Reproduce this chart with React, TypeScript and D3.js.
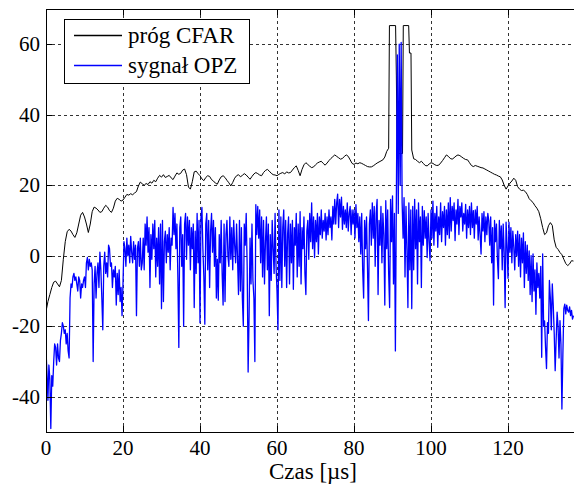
import React, { useEffect, useRef } from 'react';
import * as d3 from 'd3';

// CFAR threshold, [time µs, level]
const cfarPoints: [number, number][] = [
  [0, -15.8], [0.5, -13], [1, -11], [1.5, -9], [2, -7.5], [2.5, -7.2], [3, -8], [3.5, -8.8], [4, -7], [4.5, -1],
  [5, 4], [5.5, 6.8], [6, 7.5], [6.5, 7], [7, 6], [7.5, 5.2], [8, 6.5], [8.5, 9], [9, 11.5], [9.5, 12.3],
  [10, 11], [10.5, 9], [11, 6.6], [11.5, 9], [12, 12.5], [12.5, 13.8], [13, 13.5], [13.5, 13], [14, 12.3], [14.5, 12.5],
  [15, 13.5], [15.5, 14.3], [16, 13.8], [16.5, 12.8], [17, 12.3], [17.5, 13.5], [18, 15.5], [18.5, 16.3], [19, 16], [19.5, 15.5],
  [20, 15.8], [20.5, 16.6], [21, 17.4], [21.5, 17.2], [22, 17.6], [22.5, 17.3], [23, 17.8], [23.5, 18.2], [24, 19.8], [24.5, 20.9],
  [25, 20.4], [25.5, 20], [26, 20.5], [26.5, 20.2], [27, 21], [27.5, 20.6], [28, 21.4], [28.5, 21], [29, 22], [29.5, 22.8],
  [30, 22.3], [30.5, 23], [31, 22.2], [31.5, 22.5], [32, 22.8], [32.5, 22.1], [33, 21.6], [33.5, 22.6], [34, 23.5], [34.5, 23.1],
  [35, 23.4], [35.5, 24.3], [36, 24.6], [36.5, 23], [37, 19.5], [37.5, 18.9], [38, 21], [38.5, 23.8], [39, 24], [39.5, 23.3],
  [40, 22.7], [40.5, 21.8], [41, 21.3], [41.5, 22.2], [42, 22.7], [42.5, 22.5], [43, 21.6], [43.5, 21.2], [44, 20.6], [44.5, 20.3],
  [45, 21.5], [45.5, 22.4], [46, 22.7], [46.5, 22.2], [47, 21.4], [47.5, 20.7], [48, 19.8], [48.5, 20.8], [49, 22], [49.5, 22.7],
  [50, 23], [50.5, 22.4], [51, 22.8], [51.5, 23.3], [52, 22.9], [52.5, 22.3], [53, 21.7], [53.5, 22.5], [54, 23.2], [54.5, 23.6],
  [55, 23.3], [55.5, 22.9], [56, 22.7], [56.5, 23.6], [57, 24.2], [57.5, 24.5], [58, 24], [58.5, 23.4], [59, 23], [59.5, 22.9],
  [60, 22.7], [60.5, 23.1], [61, 23.4], [61.5, 23.6], [62, 23.2], [62.5, 23.8], [63, 23.5], [63.5, 23.6], [64, 24.3], [64.5, 25],
  [65, 25.5], [65.5, 24.2], [66, 22.7], [66.5, 24.5], [67, 25.8], [67.5, 26.4], [68, 25.9], [68.5, 25.4], [69, 25], [69.5, 25.2],
  [70, 25.8], [70.5, 26.3], [71, 26.6], [71.5, 26.8], [72, 26.2], [72.5, 25.7], [73, 26.3], [73.5, 27], [74, 27.6], [74.5, 28.1],
  [75, 28.6], [75.5, 28.2], [76, 27.8], [76.5, 27.4], [77, 27.6], [77.5, 28.2], [78, 28.6], [78.5, 28.2], [79, 27.2], [79.5, 26.2],
  [80, 25.9], [80.5, 26.3], [81, 26.1], [81.5, 26.4], [82, 26.2], [82.5, 25.9], [83, 25.6], [83.5, 25.3], [84, 25.2], [84.5, 25.2],
  [85, 25.5], [85.5, 25.9], [86, 26.3], [86.5, 26.6], [87, 26.9], [87.5, 27.2], [88, 28], [88.5, 29.6], [89, 30.5],
  [89.2, 65.3], [90.8, 65.3], [91, 51], [91.2, 29], [92.6, 29], [92.8, 65.3], [94.2, 65.3], [94.4, 57.5], [94.8, 57.5], [95, 30],
  [95.5, 27.5], [96, 27.3], [96.5, 26.8], [97, 26.4], [97.5, 26.8], [98, 26.2], [98.5, 25.6], [99, 25.5], [99.5, 26],
  [100, 26.4], [100.5, 26.2], [101, 25.8], [101.5, 25.6], [102, 25.7], [102.5, 26.3], [103, 27], [103.5, 27.8], [104, 28.6], [104.5, 28.2],
  [105, 27.6], [105.5, 27.4], [106, 27.8], [106.5, 28.3], [107, 28.6], [107.5, 28.4], [108, 28], [108.5, 27.6], [109, 27.3], [109.5, 27.2],
  [110, 26.4], [110.5, 25.6], [111, 25.3], [111.5, 25.6], [112, 25.4], [112.5, 25.2], [113, 25], [113.5, 24.9], [114, 24.6], [114.5, 24.3],
  [115, 24], [115.5, 23.7], [116, 23.4], [116.5, 23.1], [117, 22.9], [117.5, 22.6], [118, 22.4], [118.5, 21.5], [119, 20], [119.5, 18.9],
  [120, 19.8], [120.5, 20.6], [121, 21.2], [121.5, 22], [122, 21.4], [122.5, 19.6], [123, 18.9], [123.5, 18.5], [124, 18.6], [124.5, 18.2],
  [125, 17.4], [125.5, 16.2], [126, 15.6], [126.5, 15.1], [127, 14.2], [127.5, 13.5], [128, 12.5], [128.5, 10.5], [129, 8], [129.5, 6],
  [130, 6.5], [130.5, 8.5], [131, 9.4], [131.5, 8.6], [132, 4.5], [132.5, 2.4], [133, 1.8], [133.5, 0.9], [134, 0.3], [134.5, -1],
  [135, -2.2], [135.5, -2.8], [136, -2.3], [136.5, -1.4], [137, -1.5],
];

// OPZ signal, one sample every 0.25 µs, one row per 5 µs
const opzStep = 0.25;
const opzSignal = [
  -27, -33, -41, -31, -35, -49, -34, -37, -30, -25, -26, -31, -25, -29, -30, -24, -22, -19, -20, -22,
  -21, -25, -22, -27, -29, -12, -8, -9, -6, -5, -7, -6, -8, -10, -6, -7, -12, -8, -9, -7,
  -6, -9, -2, -0.5, -4, -1, -3, -2, -4, -30, -8, -3, -12, -5, -2, -9, 1, -4, -12, -21,
  -3, 1, -5, -2, -6, 3, 2, -3, -2, -9, -4, -6, -3, -14, -5, -11, -4, -13, -9, -17,
  -8, 4, 2, -3, 5, 0, 3, -2, 5.5, 1, -2, 4, -1, 3, -17, 2, 4, -3, 5, -4,
  -2, 5, -4, 9, 3, 11, 1, 8, -9, 6, -1, 9, 2, 10, -6, 5, -3, 8, -8, 9,
  -15, 10, -13, 4, 7, -2, 6, 1, 8, -4, 5, 3, 13.7, 6, 12, 2, 9, -6, -26, 8,
  11, -3, 6, -20, 9, 12, -1, 11, 3, 10, -4, 8, 2, 9, -14.7, 7, -5, 12, -2, 10,
  -19, 11, 13.7, 2, -6, -19.4, 9, 12, -4, 10, -9, 7, 12, 1, 10, -3, 8, -12, -1, -12.6,
  6, -2, 10, -5, -14, 9, -13, 6, 10, 0, -3, 11, -1, 8, -4, 10, 3, -2, 9, -1,
  -11, 10, -10, 8, -12, -20, 9, 3, 12, -3, -33, -17, 5, -8, 9, -7, -12, -30, 14.5, 6,
  14, 5, 13, -2, 11, -6, 10, -8, 4, 11, -4, 9, -17, 6, -7, 10, 2, -5, 12, -3,
  -10, -21, 13, -7, 11, -9, 8, 13, -3, 10, -9, 6, 11, -8, 9, -2, 10, -9.5, 8, 3,
  12, -6, 9, -3, 12.5, -8, 8, 2, 11, -5, -11, 7, 10, -1, 12, 4, 15, 2, 11, -0.5,
  10, 4, 12, 0.5, 11, 6, 13, 5, 10, 7, 12, 4.5, 11, 6, 13, 8, 11, 4.5, 14, 9,
  16, 9, 15, 17.5, 8, 16, 11, 16.6, 7.5, 14, 9, 13, 8, 15, 7, 12, 14, 6, 13, 9,
  13, 5, 14.5, 8, 12, 4, 11, 0.5, 12, -4, -12, 10, 2, 11, -3, -18.4, 9, 13, 3, 15,
  5, 14, -3, 12, 16, -11, 10, 3, 14, -2, 12, 6, -14, 15.6, 2, 13, -5, -14.7, 16, 4,
  17, -8, 12, -27, 16, 57, 12, 60, 20, 60.5, 15, 5, 16.5, -6, 14, 2, -14.7, 15, -4, 13,
  -15, 14, -4, 16, 2, 13, -8, 15, 4, 11, -9, 14, 3, 12.8, 5, 11, -0.5, 12, 4, -1.4,
  13, 5, 15.5, 3, 12, 7, 14, 2.4, 11, 6, 15, 4, 12.5, 8, 14, 3, 13, 6, 15, 5,
  16.5, 7, 14, 10, 15, 4.3, 13, 9, 16, 6, 14, 11, 15, 7, 12, 9, 14.6, 5, 13, 8,
  14, 6, 15, 8, 12.8, 5, 13, 9, 14, 4.5, 11, 6, 0.5, 12, 7, 12.5, 4, 11, 6, 12,
  10, 3, 11, -2, 8, -14, 10, 4, 9, -1, -6.5, 10, 2, 8.5, -4, 9, 1, -14.7, 9.5, 3,
  -6.4, 9.5, 1, 8, -2, 7, 2.4, -4, 6, 0, 7, -3, 6, -6, 5, -2, 6.5, -9, 4, -5,
  3, -7, 1.4, -11, 0, -13, 0.5, -10, -4, -16.6, -2, -9, -5, -12, -3, -28.8, 0.5, -20, -18.5, -26,
  -32, -19, -22, -7, -12, -21, -8, -14, -22, -32.6, -24, -16, -20, -29, -18.4, -25, -43.5, -28, -15, -13.7,
  -16.5, -14, -15.5, -16, -14.5, -17, -15.5, -18, -17,
];

const xTicks = [0, 20, 40, 60, 80, 100, 120];
const yTicks = [-40, -20, 0, 20, 40, 60];
const legendLabels = ['próg CFAR', 'sygnał OPZ'];
const seriesColors = ['#000000', '#0000ff'];
const xLabel = 'Czas [µs]';

const W = 574;
const H = 484;
const FONT = "'Liberation Serif', 'DejaVu Serif', 'Times New Roman', serif";

const App = () => {
  const svgRef = useRef<SVGSVGElement>(null);

  useEffect(() => {
    const left = 46, right = 575, top = 9, bottom = 432;
    const x = d3.scaleLinear().domain([0, 137.4]).range([left, right]);
    const y = d3.scaleLinear().domain([-50, 70]).range([bottom, top]);

    const svg = d3.select(svgRef.current);
    svg.selectAll('*').remove();

    svg.append('rect').attr('width', W).attr('height', H).attr('fill', '#fff');

    svg.append('defs').append('clipPath').attr('id', 'plotclip')
      .append('rect').attr('x', left).attr('y', top).attr('width', right - left).attr('height', bottom - top);

    // grid
    const grid = svg.append('g').attr('stroke', '#333').attr('stroke-width', 1).attr('stroke-dasharray', '3,3');
    xTicks.filter(t => t > 0).forEach(t => {
      grid.append('line').attr('x1', Math.round(x(t)) + 0.5).attr('x2', Math.round(x(t)) + 0.5)
        .attr('y1', top).attr('y2', bottom);
    });
    yTicks.forEach(t => {
      grid.append('line').attr('y1', Math.round(y(t)) + 0.5).attr('y2', Math.round(y(t)) + 0.5)
        .attr('x1', left).attr('x2', right);
    });

    const plot = svg.append('g').attr('clip-path', 'url(#plotclip)');

    const cfarLine = d3.line<[number, number]>().x(d => x(d[0])).y(d => y(d[1]));
    const opzLine = d3.line<number>().x((d, i) => x(i * opzStep)).y(d => y(d));

    plot.append('path').attr('d', cfarLine(cfarPoints)).attr('fill', 'none')
      .attr('stroke', seriesColors[0]).attr('stroke-width', 1);
    plot.append('path').attr('d', opzLine(opzSignal)).attr('fill', 'none')
      .attr('stroke', seriesColors[1]).attr('stroke-width', 1.3).attr('stroke-linejoin', 'round');

    // axes box
    svg.append('rect').attr('x', left + 0.5).attr('y', top + 0.5)
      .attr('width', right - left).attr('height', bottom - top)
      .attr('fill', 'none').attr('stroke', '#000').attr('stroke-width', 1);

    const ticks = svg.append('g').attr('stroke', '#000').attr('stroke-width', 1);
    xTicks.forEach(t => {
      const px = Math.round(x(t)) + 0.5;
      ticks.append('line').attr('x1', px).attr('x2', px).attr('y1', bottom).attr('y2', bottom - 6);
      ticks.append('line').attr('x1', px).attr('x2', px).attr('y1', top).attr('y2', top + 6);
    });
    yTicks.forEach(t => {
      const py = Math.round(y(t)) + 0.5;
      ticks.append('line').attr('x1', left).attr('x2', left + 6).attr('y1', py).attr('y2', py);
    });

    // tick labels
    svg.append('g').selectAll('text').data(xTicks).join('text')
      .attr('x', d => x(d)).attr('y', 455).attr('text-anchor', 'middle')
      .style('font-family', FONT).style('font-size', '21px').text(d => d);
    svg.append('g').selectAll('text').data(yTicks).join('text')
      .attr('x', 40).attr('y', d => y(d) + 7).attr('text-anchor', 'end')
      .style('font-family', FONT).style('font-size', '21px').text(d => d);

    svg.append('text').attr('x', 313).attr('y', 479).attr('text-anchor', 'middle')
      .style('font-family', FONT).style('font-size', '23px').text(xLabel);

    // legend
    const lg = svg.append('g');
    lg.append('rect').attr('x', 64.5).attr('y', 19.5).attr('width', 185).attr('height', 64)
      .attr('fill', '#fff').attr('stroke', '#000').attr('stroke-width', 1);
    legendLabels.forEach((name, i) => {
      const cy = 35 + i * 30;
      lg.append('line').attr('x1', 74).attr('x2', 122).attr('y1', cy + 0.5).attr('y2', cy + 0.5)
        .style('stroke', seriesColors[i]).style('stroke-width', '1.3px');
      lg.append('text').attr('x', 128).attr('y', cy + 8)
        .style('font-family', FONT).style('font-size', '23px').text(name);
    });
  }, []);

  return (
    <svg ref={svgRef} width={W} height={H} style={{ position: 'absolute', left: 0, top: 0 }}></svg>
  );
};

export default App;
